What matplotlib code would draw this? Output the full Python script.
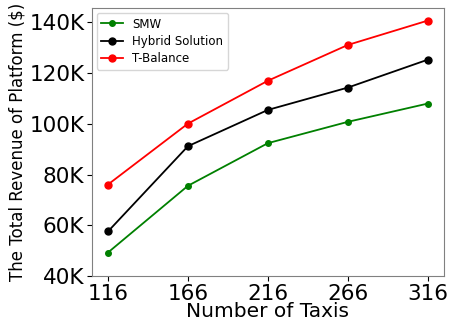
import matplotlib
matplotlib.use('Agg')
import matplotlib.pyplot as plt
from matplotlib.ticker import FuncFormatter

taxis = [116, 166, 216, 266, 316]
smw = [49300, 75600, 92400, 100800, 108000]
hybrid = [57600, 91200, 105500, 114300, 125300]
tbalance = [76100, 100100, 117000, 131100, 140700]

fig = plt.figure(figsize=(4.51, 3.26), dpi=100)
ax = fig.add_axes([0.204, 0.153, 0.780, 0.822])

ax.plot(taxis, smw, 'g.-', markersize=8, linewidth=1.3, label='SMW')
ax.plot(taxis, hybrid, 'ko-', markersize=5, linewidth=1.3, label='Hybrid Solution')
ax.plot(taxis, tbalance, 'ro-', markersize=5, linewidth=1.3, label='T-Balance')

ax.set_xticks(taxis)
ax.set_xlim(106, 326)
ax.set_ylim(40000, 145600)
ax.set_yticks([40000, 60000, 80000, 100000, 120000, 140000])
ax.yaxis.set_major_formatter(FuncFormatter(lambda v, p: '%dK' % (v / 1000)))
ax.tick_params(labelsize=15.5, pad=2)
for s in ax.spines.values():
    s.set_color('#808080')

ax.set_xlabel('Number of Taxis', fontsize=14.5, labelpad=-1)
ax.set_ylabel('The Total Revenue of Platform ($)', fontsize=12, labelpad=2)
ax.legend(loc='upper left', fontsize=8.5, labelspacing=0.35, handlelength=1.8,
          borderaxespad=0.4)

fig.savefig('out.png', dpi=100)
